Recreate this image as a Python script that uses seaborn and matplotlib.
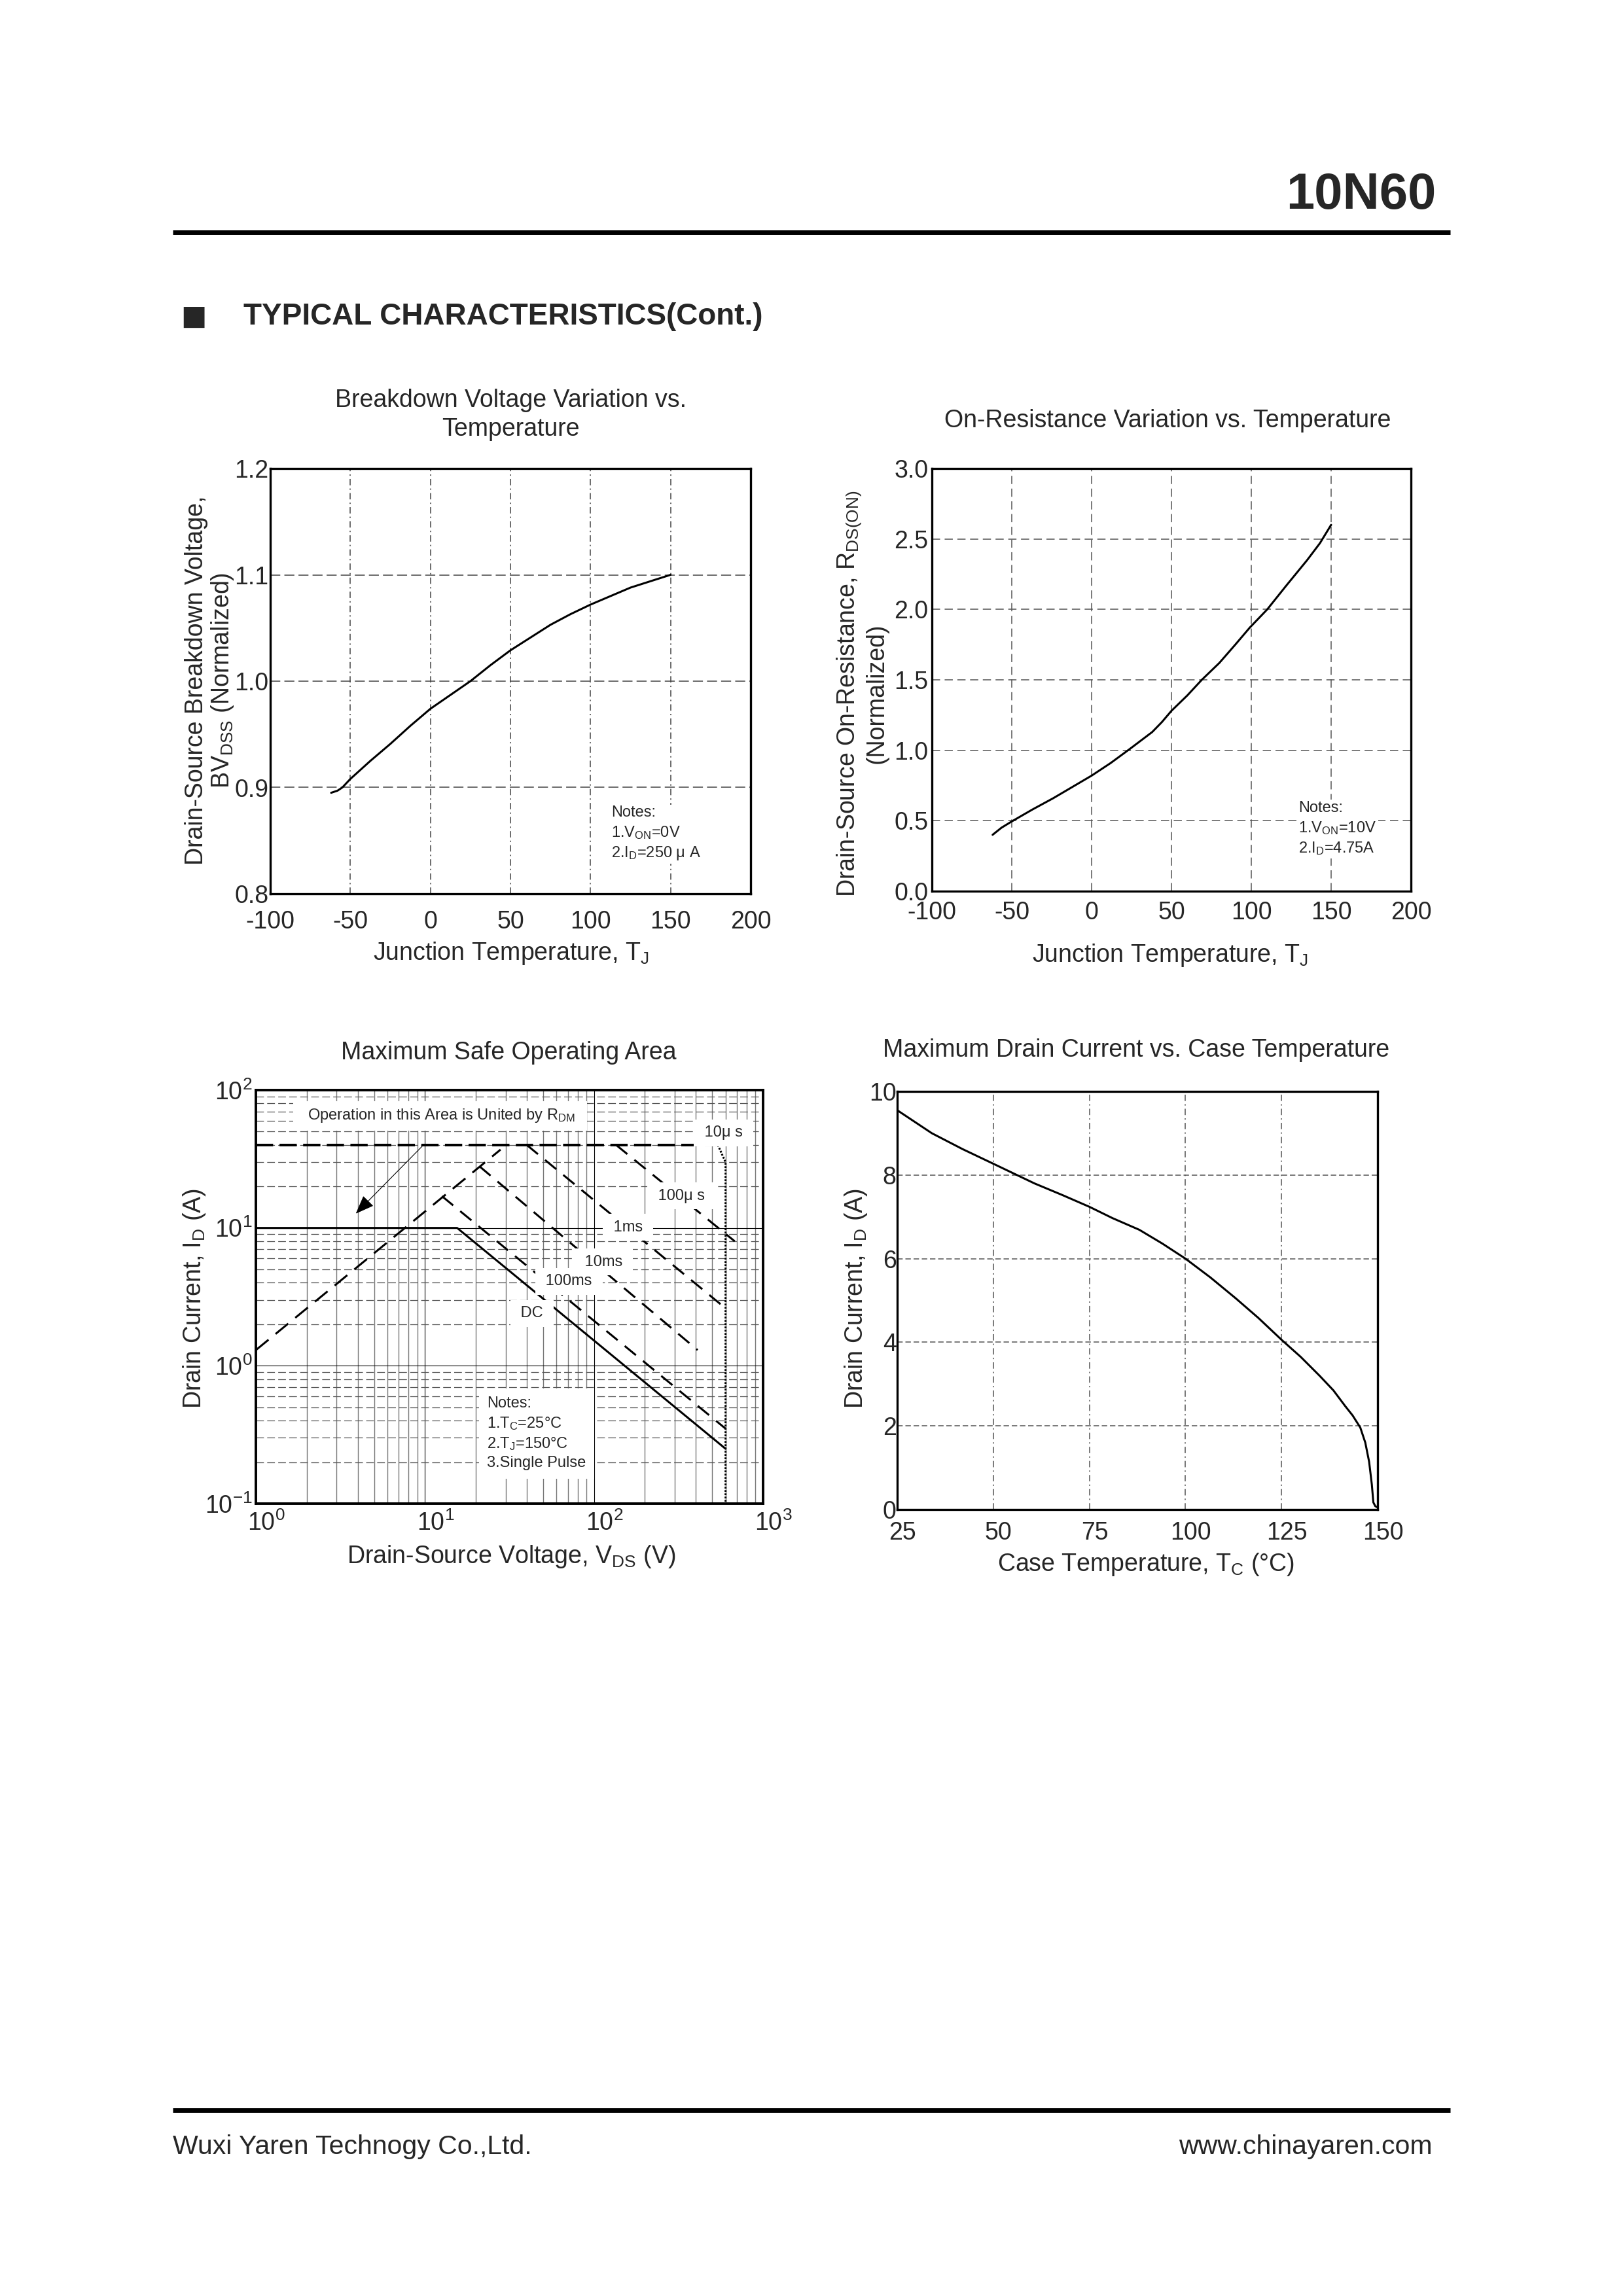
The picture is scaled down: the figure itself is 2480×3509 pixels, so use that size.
import matplotlib
matplotlib.use("Agg")
import matplotlib.pyplot as plt
import seaborn as sns
from matplotlib import font_manager
from matplotlib.lines import Line2D
from matplotlib.transforms import ScaledTranslation
from matplotlib.ticker import FormatStrFormatter, NullFormatter, LogLocator

# ---- values ----
# Breakdown voltage variation vs junction temperature
bv_tj = [-62, -58, -55, -50, -37.5, -25, -12.5, 0, 12.5, 25, 37.5, 50,
         62.5, 75, 87.5, 100, 112.5, 125, 137.5, 150]
bv_norm = [0.895, 0.897, 0.900, 0.908, 0.925, 0.941, 0.958, 0.974, 0.987, 1.000, 1.015, 1.029,
           1.041, 1.053, 1.063, 1.072, 1.080, 1.088, 1.094, 1.100]

# On-resistance variation vs junction temperature
rds_tj = [-62, -56.5, -50, -37, -24, -12, 0, 12, 24, 31, 38, 44, 50, 60, 69,
          80, 90, 99, 110, 122, 135, 143, 150]
rds_norm = [0.40, 0.45, 0.495, 0.58, 0.66, 0.74, 0.82, 0.91, 1.01, 1.07, 1.13, 1.20, 1.28, 1.39, 1.50,
            1.62, 1.75, 1.87, 2.00, 2.17, 2.35, 2.47, 2.60]

# Maximum safe operating area (V, A)
rdson_v = [1, 28]
rdson_i = [1.3, 37]
us10_v = [1, 540]
us10_i = [40, 40]
limit_v = [540, 600, 600]
limit_i = [40, 30, 0.1]
us100_v = [135, 680]
us100_i = [40, 8]
ms1_v = [40, 560]
ms1_i = [40, 2.8]
ms10_v = [21, 410]
ms10_i = [28, 1.3]
ms100_v = [12.6, 600]
ms100_i = [17, 0.35]
dc_v = [1, 15.5, 600]
dc_i = [10, 10, 0.25]

# Maximum drain current vs case temperature
tc = [25, 34, 42, 50, 60.7, 68, 75, 81, 88, 94, 100, 106.5, 113.1, 119, 125, 130,
      134.9, 138.5, 141.6, 143.5, 145.5, 146.8, 147.8, 148.5, 148.9, 149.4, 150]
id_max = [9.55, 9.0, 8.62, 8.27, 7.80, 7.52, 7.24, 6.97, 6.69, 6.36, 6.0, 5.55, 5.05, 4.58, 4.06, 3.65,
          3.2, 2.85, 2.47, 2.25, 1.96, 1.6, 1.14, 0.6, 0.17, 0.08, 0.05]

# ---- style ----
sns.set_style("white")
plt.rcParams['font.family'] = ['Liberation Sans', 'DejaVu Sans']
plt.rcParams['mathtext.fontset'] = 'custom'
plt.rcParams['mathtext.rm'] = 'Liberation Sans'
plt.rcParams['mathtext.it'] = 'Liberation Sans:italic'
plt.rcParams['mathtext.bf'] = 'Liberation Sans:bold'
plt.rcParams['axes.unicode_minus'] = False
plt.rcParams['lines.scale_dashes'] = False

names = {f.name for f in font_manager.fontManager.ttflist}
narrow = 'Liberation Sans Narrow' if 'Liberation Sans Narrow' in names else None

W, H, DPI = 2480, 3509, 100
fig = plt.figure(figsize=(W / DPI, H / DPI), dpi=DPI)
fig.patch.set_facecolor('white')


def box(l, t, r, b):
    return [l / W, 1 - b / H, (r - l) / W, (b - t) / H]


def ftext(x, y, s, **kw):
    kw.setdefault('ha', 'center')
    kw.setdefault('va', 'center')
    return fig.text(x / W, 1 - y / H, s, **kw)


def hline(y, x0, x1, lw):
    fig.add_artist(Line2D([x0 / W, x1 / W], [1 - y / H, 1 - y / H],
                          color='black', linewidth=lw, solid_capstyle='butt'))


def frame(ax, lw=2.4):
    for s in ax.spines.values():
        s.set_linewidth(lw)
        s.set_color('black')
        s.set_visible(True)
    ax.set_xlabel('')
    ax.set_ylabel('')


def nudge_xlabels(ax, px):
    shift = ScaledTranslation(px / DPI, 0, fig.dpi_scale_trans)
    for t in ax.get_xticklabels():
        t.set_transform(t.get_transform() + shift)


FS = 27
NOTE = 17
LINE = dict(color='black', linewidth=2.2, estimator=None, sort=False)

# ---- page header / footer ----
if narrow:
    ftext(2195, 300, '10N60', ha='right', fontsize=64, fontweight='bold', family=narrow)
else:
    ftext(2195, 298, '10N60', ha='right', fontsize=56, fontweight='bold')
hline(355, 264, 2216, 5)
ftext(276, 484, '\u25a0', ha='left', fontsize=30, family='DejaVu Sans')
ftext(372, 484, 'TYPICAL CHARACTERISTICS(Cont.)', ha='left', fontsize=33, fontweight='bold')
hline(3225, 264, 2216, 5)
ftext(264, 3281, 'Wuxi Yaren Technogy Co.,Ltd.', ha='left', fontsize=29.5)
ftext(2189, 3281, 'www.chinayaren.com', ha='right', fontsize=29.5)

# ---- 1. breakdown voltage ----
ax1 = fig.add_axes(box(413, 716, 1147, 1366))
sns.lineplot(x=bv_tj, y=bv_norm, ax=ax1, **LINE)
ax1.set_xlim(-100, 200)
ax1.set_ylim(0.8, 1.2)
ax1.set_xticks(range(-100, 201, 50))
ax1.set_yticks([0.8, 0.9, 1.0, 1.1, 1.2])
ax1.yaxis.set_major_formatter(FormatStrFormatter('%.1f'))
ax1.xaxis.grid(True, color='#444444', linewidth=1.1, linestyle=(0, (7, 3.5, 1.5, 3.5)))
ax1.yaxis.grid(True, color='#444444', linewidth=1.1, linestyle=(0, (11, 4.5)))
ax1.set_axisbelow(True)
ax1.tick_params(axis='x', length=0, labelsize=FS, pad=18)
ax1.tick_params(axis='y', length=0, labelsize=FS, pad=2)
frame(ax1)
ax1.text(113, 0.883, 'Notes:\n1.V$_{\\mathrm{ON}}$=0V\n2.I$_{\\mathrm{D}}$=250 \u03bc A',
         fontsize=NOTE, ha='left', va='top', linespacing=1.35,
         bbox=dict(fc='white', ec='none', pad=2))
ftext(780, 634, 'Breakdown Voltage Variation vs.\nTemperature', fontsize=FS, linespacing=1.3)
ftext(321, 1040, 'Drain-Source Breakdown Voltage,\nBV$_{\\mathrm{DSS}}$ (Normalized)',
      fontsize=FS, rotation=90, linespacing=1.1)
ftext(781, 1457, 'Junction Temperature, T$_{\\mathrm{J}}$', fontsize=FS)

# ---- 2. on-resistance ----
ax2 = fig.add_axes(box(1424, 716, 2156, 1362))
sns.lineplot(x=rds_tj, y=rds_norm, ax=ax2, **LINE)
ax2.set_xlim(-100, 200)
ax2.set_ylim(0, 3)
ax2.set_xticks(range(-100, 201, 50))
ax2.set_yticks([0, 0.5, 1.0, 1.5, 2.0, 2.5, 3.0])
ax2.yaxis.set_major_formatter(FormatStrFormatter('%.1f'))
ax2.grid(True, color='#555555', linewidth=1.1, linestyle=(0, (9, 5)))
ax2.set_axisbelow(True)
ax2.tick_params(axis='x', length=0, labelsize=FS, pad=11)
ax2.tick_params(axis='y', length=0, labelsize=FS, pad=4)
frame(ax2)
ax2.text(129.7, 0.64, 'Notes:\n1.V$_{\\mathrm{ON}}$=10V\n2.I$_{\\mathrm{D}}$=4.75A',
         fontsize=NOTE, ha='left', va='top', linespacing=1.35,
         bbox=dict(fc='white', ec='none', pad=2))
ftext(1784, 643, 'On-Resistance Variation vs. Temperature', fontsize=FS)
ftext(1317, 1060, 'Drain-Source On-Resistance, R$_{\\mathrm{DS(ON)}}$\n(Normalized)',
      fontsize=FS, rotation=90, linespacing=1.1)
ftext(1788, 1460, 'Junction Temperature, T$_{\\mathrm{J}}$', fontsize=FS)

# ---- 3. safe operating area ----
ax3 = fig.add_axes(box(391, 1666, 1166, 2298))
ax3.set_xscale('log')
ax3.set_yscale('log')
sns.lineplot(x=rdson_v, y=rdson_i, ax=ax3, color='black', linewidth=2.2,
             linestyle=(0, (18, 10)), estimator=None, sort=False)
sns.lineplot(x=us10_v, y=us10_i, ax=ax3, color='black', linewidth=2.9,
             linestyle=(0, (19, 7)), estimator=None, sort=False)
sns.lineplot(x=limit_v, y=limit_i, ax=ax3, color='black', linewidth=2.2,
             linestyle=(0, (2, 1.6)), estimator=None, sort=False)
for vv, ii in [(us100_v, us100_i), (ms1_v, ms1_i), (ms10_v, ms10_i), (ms100_v, ms100_i)]:
    sns.lineplot(x=vv, y=ii, ax=ax3, color='black', linewidth=2.2,
                 linestyle=(0, (16, 10)), estimator=None, sort=False)
sns.lineplot(x=dc_v, y=dc_i, ax=ax3, **LINE)
ax3.set_xlim(1, 1000)
ax3.set_ylim(0.1, 100)
ax3.set_xticks([1, 10, 100, 1000])
ax3.set_yticks([0.1, 1, 10, 100])
for axis in (ax3.xaxis, ax3.yaxis):
    axis.set_minor_locator(LogLocator(base=10, subs=[2, 3, 4, 5, 6, 7, 8, 9], numticks=20))
    axis.set_minor_formatter(NullFormatter())
ax3.grid(which='major', color='black', linewidth=0.8, linestyle='-')
ax3.xaxis.grid(which='minor', color='#777777', linewidth=1.0, linestyle='-')
ax3.yaxis.grid(which='minor', color='#555555', linewidth=0.9, linestyle=(0, (8.5, 3.6)))
ax3.set_axisbelow(True)
ax3.tick_params(which='both', length=0)
ax3.tick_params(axis='x', labelsize=FS, pad=8)
ax3.tick_params(axis='y', labelsize=FS, pad=4)
nudge_xlabels(ax3, 16)
frame(ax3, 2.8)
ax3.annotate('', xy=(3.9, 12.7), xytext=(9.8, 40),
             arrowprops=dict(arrowstyle='-|>,head_length=0.9,head_width=0.35',
                             color='black', lw=0.8, mutation_scale=20,
                             shrinkA=0, shrinkB=0))
lab = dict(fontsize=NOTE, ha='center', va='center', zorder=5,
           bbox=dict(fc='white', ec='none', pad=7))
ax3.text(12.3, 65, '  Operation in this Area is United by R$_{\\mathrm{DM}}$  ', **lab)
ax3.text(583, 49, ' 10\u03bc s ', **lab)
ax3.text(328, 17.1, ' 100\u03bc s ', **lab)
ax3.text(159, 10.1, ' 1ms ', **lab)
ax3.text(114, 5.66, ' 10ms ', **lab)
ax3.text(71, 4.09, ' 100ms ', **lab)
ax3.text(43, 2.40, ' DC ', **lab)
ax3.text(23.3, 0.60, 'Notes:\n1.T$_{\\mathrm{C}}$=25\u00b0C\n2.T$_{\\mathrm{J}}$=150\u00b0C\n3.Single Pulse',
         fontsize=NOTE, ha='left', va='top', linespacing=1.35, zorder=5,
         bbox=dict(fc='white', ec='none', pad=9))
ftext(777, 1609, 'Maximum Safe Operating Area', fontsize=FS)
ftext(297, 1985, 'Drain Current, I$_{\\mathrm{D}}$ (A)', fontsize=FS, rotation=90)
ftext(781, 2379, 'Drain-Source Voltage, V$_{\\mathrm{DS}}$ (V)', fontsize=FS)

# ---- 4. max drain current vs case temperature ----
ax4 = fig.add_axes(box(1371, 1668, 2105, 2307))
sns.lineplot(x=tc, y=id_max, ax=ax4, **LINE)
ax4.set_xlim(25, 150)
ax4.set_ylim(0, 10)
ax4.set_xticks([25, 50, 75, 100, 125, 150])
ax4.set_yticks([0, 2, 4, 6, 8, 10])
ax4.xaxis.grid(True, color='#555555', linewidth=1.1, linestyle=(0, (7, 3.5, 1.5, 3.5)))
ax4.yaxis.grid(True, color='#555555', linewidth=1.1, linestyle=(0, (6, 3)))
ax4.set_axisbelow(True)
ax4.tick_params(axis='x', length=0, labelsize=FS, pad=13)
ax4.tick_params(axis='y', length=0, labelsize=FS, pad=1)
nudge_xlabels(ax4, 8)
frame(ax4)
ftext(1736, 1605, 'Maximum Drain Current vs. Case Temperature', fontsize=FS)
ftext(1308, 1985, 'Drain Current, I$_{\\mathrm{D}}$ (A)', fontsize=FS, rotation=90)
ftext(1751, 2391, 'Case Temperature, T$_{\\mathrm{C}}$ (\u00b0C)', fontsize=FS)

fig.savefig('out.png', dpi=DPI, facecolor='white')
